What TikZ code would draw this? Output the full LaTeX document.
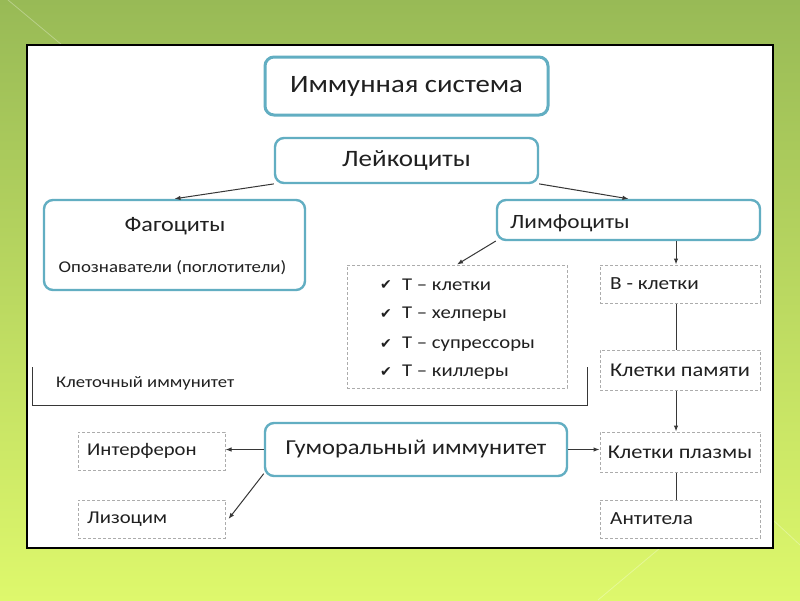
\documentclass[tikz,border=0pt]{standalone}
\usepackage{fontspec}
\setmainfont{Carlito}[FakeStretch=1.15]
\newfontfamily\symfont{DejaVu Sans}
\usetikzlibrary{arrows.meta,calc}
\definecolor{bgtop}{RGB}{152,186,86}
\definecolor{bgbot}{RGB}{222,248,108}
\definecolor{tealc}{RGB}{98,174,194}
\definecolor{grayd}{RGB}{172,172,172}
\definecolor{txt}{RGB}{32,32,32}
\definecolor{linec}{RGB}{55,55,55}
\tikzset{
  rbox/.style={draw=tealc, line width=2.4pt, rounded corners=9pt, fill=white, text=txt, inner sep=0pt},
  dbox/.style={draw=grayd, dash pattern=on 3pt off 2pt, line width=1pt, fill=white, text=txt, inner sep=0pt},
  lbl/.style={text=txt, inner sep=0pt},
  conn/.style={draw=linec, line width=1pt},
  arr/.style={conn, -{Latex[length=6pt,width=4.5pt]}}
}
\begin{document}
\begin{tikzpicture}[x=1pt,y=-1pt]
\useasboundingbox (0,0) rectangle (800,600);
\shade[top color=bgtop, bottom color=bgbot] (0,0) rectangle (800,600);
\draw[white, opacity=0.3, line width=0.8pt] (8,0) -- (62,45);
\draw[white, opacity=0.3, line width=0.8pt] (598,600) -- (660,548);
\draw[white, opacity=0.3, line width=0.8pt] (773,520) -- (800,545);
% panel
\draw[fill=white, draw=black, line width=2pt] (27,45) rectangle (773,548);
\coordinate (cx) at (676,0);
% nodes
\node[rbox, line width=3pt, minimum width=283pt, minimum height=58pt, font=\fontsize{25}{27}\selectfont] (top) at (406.5,86) {Иммунная система};
\node[rbox, minimum width=263pt, minimum height=45pt, font=\fontsize{23.5}{25}\selectfont] (leuk) at (406.5,160.5) {Лейкоциты};
\node[rbox, minimum width=261pt, minimum height=90pt] (phag) at (174.5,245) {};
\node[lbl, font=\fontsize{21}{23}\selectfont] (phagt) at (175,226) {Фагоциты};
\node[lbl, font=\fontsize{16.4}{18}\selectfont] (phags) at (172.5,268) {Опознаватели (поглотители)};
\node[rbox, minimum width=263pt, minimum height=40pt] (lymph) at (628.5,220) {};
\node[lbl, anchor=west, font=\fontsize{20.3}{22}\selectfont] (lympht) at (510,223) {Лимфоциты};
\node[dbox, minimum width=220pt, minimum height=123pt] (tbox) at (457,326.5) {};
\foreach \yy/\tt [count=\i] in {285/{Т – клетки},314/{Т – хелперы},344/{Т – супрессоры},372/{Т – киллеры}}{
  \node[lbl, font=\symfont\fontsize{14}{16}\selectfont] (chk\i) at (386,\yy) {✔};
  \node[lbl, anchor=west, font=\fontsize{18}{20}\selectfont] (ti\i) at (402,\yy) {\tt};
}
\node[dbox, minimum width=160pt, minimum height=38pt] (bc) at (680,284) {};
\node[lbl, anchor=west, font=\fontsize{18.5}{20}\selectfont] (bct) at (610,284) {В - клетки};
\node[dbox, minimum width=160pt, minimum height=40pt, font=\fontsize{19.5}{21}\selectfont, text=txt] (mem) at (680,370) {Клетки памяти};
\node[dbox, minimum width=160pt, minimum height=40pt, font=\fontsize{19.5}{21}\selectfont, text=txt] (pl) at (680,452) {Клетки плазмы};
\node[dbox, minimum width=160pt, minimum height=38pt] (anti) at (680,519) {};
\node[lbl, anchor=west, font=\fontsize{18.5}{20}\selectfont] (antit) at (610,519) {Антитела};
\node[rbox, minimum width=302pt, minimum height=53pt, font=\fontsize{21.3}{23}\selectfont] (hum) at (416,449.5) {Гуморальный иммунитет};
\node[dbox, minimum width=147pt, minimum height=38pt] (intf) at (151.5,451) {};
\node[lbl, anchor=west, font=\fontsize{18}{20}\selectfont] (intft) at (87,451) {Интерферон};
\node[dbox, minimum width=147pt, minimum height=38pt] (lys) at (151.5,519) {};
\node[lbl, anchor=west, font=\fontsize{18}{20}\selectfont] (lyst) at (87,519) {Лизоцим};
% bracket
\coordinate (br1) at (32,367);
\coordinate (br2) at (32,405);
\coordinate (br3) at (587,405);
\coordinate (br4) at (587,367);
\draw[conn, line width=0.8pt] (br1) -- (br2) -- (br3) -- (br4);
\node[lbl, anchor=west, font=\fontsize{16.2}{18}\selectfont] (cell) at (56,383) {Клеточный иммунитет};
% connectors
\draw[arr] (leuk.190) -- (phag.north);
\draw[arr] (leuk.350) -- (lymph.north);
\draw[arr] (lymph.189) -- (tbox.north);
\draw[arr] (lymph.south -| cx) -- (bc.north -| cx);
\draw[conn] (bc.south -| cx) -- (mem.north -| cx);
\draw[arr] (mem.south -| cx) -- (pl.north -| cx);
\draw[conn] (pl.south -| cx) -- (anti.north -| cx);
\draw[arr] (hum.east) -- (hum.east -| pl.west);
\draw[arr] (hum.west) -- (hum.west -| intf.east);
\draw[arr] (hum.189) -- ($(lys.east)+(3,0)$);
\end{tikzpicture}
\end{document}
